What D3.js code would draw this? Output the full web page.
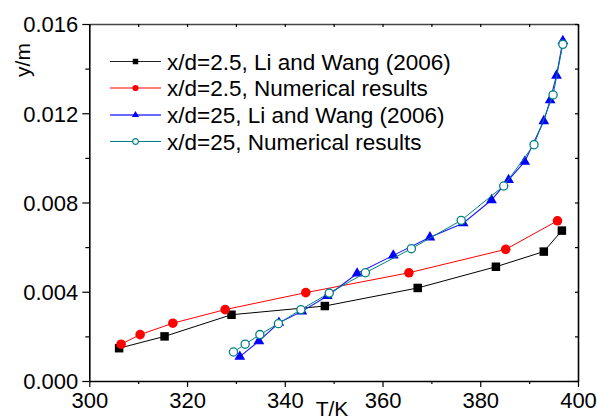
<!DOCTYPE html>
<html>
<head>
<meta charset="utf-8">
<script src="https://cdn.jsdelivr.net/npm/d3@7/dist/d3.min.js"></script>
<style>
  html, body { margin: 0; padding: 0; background: #fff; }
  svg { display: block; font-family: "Liberation Sans", Arial, sans-serif; }
</style>
</head>
<body>
<svg id="chart" width="597" height="420"></svg>
<script>
// Temperature profiles T (K) against height y (m)
const blackT = [306.1, 315.4, 329.1, 348.2, 367.2, 383.2, 393.0, 396.7];
const blackY = [0.00147, 0.00200, 0.00297, 0.00336, 0.00417, 0.00512, 0.00580, 0.00674];

const redT = [306.5, 310.4, 317.1, 327.8, 344.3, 365.4, 385.2, 395.8];
const redY = [0.00165, 0.00208, 0.00259, 0.00320, 0.00396, 0.00485, 0.00590, 0.00718];

const blueT = [330.8, 334.7, 338.8, 343.5, 348.7, 354.8, 362.2, 369.7, 376.5, 382.3, 385.8, 389.1, 393.0, 394.3, 395.6, 396.9];
const blueY = [0.00109, 0.00179, 0.00261, 0.00312, 0.00381, 0.00482, 0.00563, 0.00644, 0.00707, 0.00811, 0.00901, 0.00983, 0.01165, 0.01259, 0.01369, 0.01524];

const tealT = [329.5, 331.9, 334.9, 338.7, 343.3, 349.1, 356.5, 365.9, 376.1, 384.8, 391.0, 394.9, 396.9];
const tealY = [0.00130, 0.00165, 0.00208, 0.00257, 0.00320, 0.00394, 0.00485, 0.00593, 0.00720, 0.00874, 0.01059, 0.01282, 0.01509];

const seriesNames = [
  "x/d=2.5, Li and Wang (2006)",
  "x/d=2.5, Numerical results",
  "x/d=25, Li and Wang (2006)",
  "x/d=25, Numerical results"
];

const xTicks = [300, 320, 340, 360, 380, 400];
const yTicks = [0.000, 0.004, 0.008, 0.012, 0.016];
const xMinor = [310, 330, 350, 370, 390];
const yMinor = [0.002, 0.006, 0.010, 0.014];

const svg = d3.select("#chart");
const plotLeft = 89.3, plotRight = 578, plotTop = 24, plotBottom = 381;

const x = d3.scaleLinear().domain([300, 400]).range([plotLeft, plotRight]);
const y = d3.scaleLinear().domain([0, 0.016]).range([plotBottom, plotTop]);

const fontSize = 22.5;

// Bottom axis
const gx = svg.append("g").attr("transform", `translate(0,${plotBottom})`)
  .call(d3.axisBottom(x).tickValues(xTicks).tickFormat(d3.format("d")).tickSize(6).tickSizeOuter(0));
gx.append("g").call(d3.axisBottom(x).tickValues(xMinor).tickFormat("").tickSize(3).tickSizeOuter(0))
  .select(".domain").remove();

// Left axis
const gy = svg.append("g").attr("transform", `translate(${plotLeft},0)`)
  .call(d3.axisLeft(y).tickValues(yTicks).tickFormat(d3.format(".3f")).tickSize(7).tickSizeOuter(0));
gy.append("g").call(d3.axisLeft(y).tickValues(yMinor).tickFormat("").tickSize(4).tickSizeOuter(0))
  .select(".domain").remove();

// Top axis (ticks inward)
const gt = svg.append("g").attr("transform", `translate(0,${plotTop})`)
  .call(d3.axisTop(x).tickValues(xTicks.concat(xMinor)).tickFormat("").tickSize(-3).tickSizeOuter(0));
gt.select(".domain").attr("stroke", "#444");

// Right axis (ticks inward)
svg.append("g").attr("transform", `translate(${plotRight},0)`)
  .call(d3.axisRight(y).tickValues(yTicks.concat(yMinor)).tickFormat("").tickSize(-3).tickSizeOuter(0));

svg.selectAll(".domain").attr("stroke-width", 1.6);
svg.selectAll(".tick line").attr("stroke-width", 1.2);
gx.selectAll(".tick text").attr("font-size", 22).attr("font-family", "Liberation Sans, Arial, sans-serif")
  .attr("fill", "#000").attr("dy", null).attr("y", 27);
gy.selectAll(".tick text").attr("font-size", 22).attr("font-family", "Liberation Sans, Arial, sans-serif")
  .attr("fill", "#000").attr("x", -11).attr("dy", "0.36em");

// Axis titles
svg.append("text").attr("x", 332).attr("y", 416).attr("text-anchor", "middle")
  .attr("font-size", 21).text("T/K");
svg.append("text").attr("transform", "translate(30,60) rotate(-90)").attr("text-anchor", "middle")
  .attr("font-size", 21).text("y/m");

// Marker symbols
const sym = {
  square: d3.symbol().type(d3.symbolSquare),
  circle: d3.symbol().type(d3.symbolCircle),
  triangle: d3.symbol().type(d3.symbolTriangle)
};

const series = [
  { t: blackT, v: blackY, line: "#000", lineW: 1, shape: "square", size: 72, fill: "#000", stroke: "none", legLine: "#222", legW: 1.2, legSize: 30 },
  { t: redT, v: redY, line: "#ff0000", lineW: 1, shape: "circle", size: 72, fill: "#ff0000", stroke: "none", legLine: "#ff0000", legW: 1.2, legSize: 30 },
  { t: blueT, v: blueY, line: "#1a1aff", lineW: 1.1, shape: "triangle", size: 50, fill: "#0000ff", stroke: "none", legLine: "#6a6aff", legW: 2.2, legSize: 22 },
  { t: tealT, v: tealY, line: "#008080", lineW: 1, shape: "circle", size: 52, fill: "#fff", stroke: "#008080", legLine: "#008080", legW: 1.2, legSize: 26 }
];

const lineGen = d3.line().x(d => x(d[0])).y(d => y(d[1]));

series.forEach(s => {
  const pts = s.t.map((t, i) => [t, s.v[i]]);
  const g = svg.append("g");
  g.append("path").datum(pts).attr("d", lineGen)
    .attr("fill", "none").attr("stroke", s.line).attr("stroke-width", s.lineW);
  g.selectAll("path.m").data(pts).join("path").attr("class", "m")
    .attr("transform", d => `translate(${x(d[0])},${y(d[1])})`)
    .attr("d", sym[s.shape].size(s.size)())
    .attr("fill", s.fill).attr("stroke", s.stroke).attr("stroke-width", 1.3);
});

// Legend
const legY = [61.5, 88, 115, 141.5];
const leg = svg.append("g");
series.forEach((s, i) => {
  const yy = legY[i];
  leg.append("line").attr("x1", 110).attr("x2", 161).attr("y1", yy).attr("y2", yy)
    .attr("stroke", s.legLine).attr("stroke-width", s.legW);
  leg.append("path").attr("transform", `translate(135.5,${yy})`)
    .attr("d", sym[s.shape].size(s.legSize)())
    .attr("fill", s.fill).attr("stroke", s.stroke).attr("stroke-width", 1.2);
  leg.append("text").attr("x", 167).attr("y", yy).attr("dy", "0.36em")
    .attr("font-size", fontSize).text(seriesNames[i]);
});
</script>
</body>
</html>
